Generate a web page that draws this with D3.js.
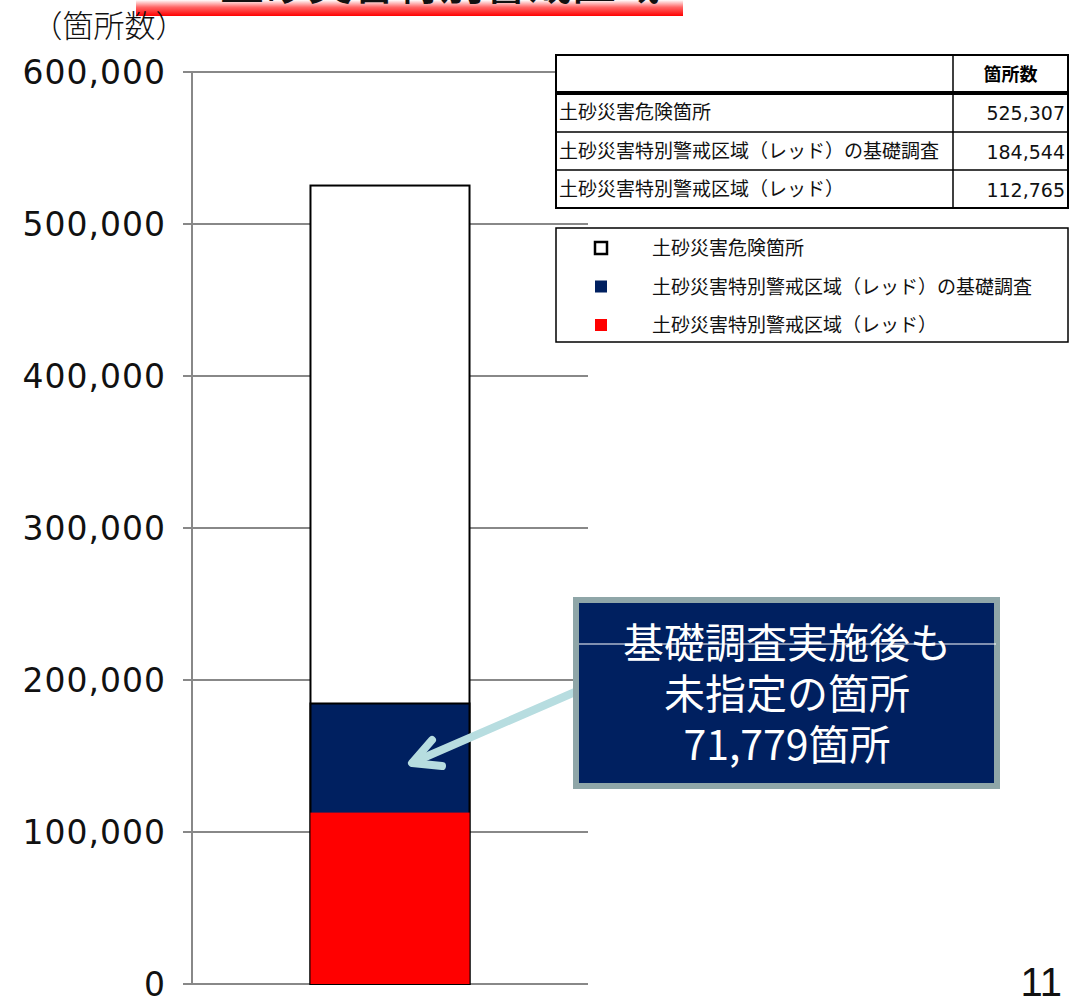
<!DOCTYPE html>
<html>
<head>
<meta charset="utf-8">
<script src="https://cdn.jsdelivr.net/npm/d3@7"></script>
<style>
  body { margin: 0; background: #fff; }
  svg { display: block; }
</style>
</head>
<body>
<div id="chart"></div>
<script>
// data
var categories = ["土砂災害危険箇所", "土砂災害特別警戒区域（レッド）の基礎調査", "土砂災害特別警戒区域（レッド）"];
var values = [525307, 184544, 112765];
var colors = ["#FFFFFF", "#002060", "#FF0000"];
var yTicks = [0, 100000, 200000, 300000, 400000, 500000, 600000];
var tableHeader = "箇所数";
var calloutLines = ["基礎調査実施後も", "未指定の箇所", "71,779箇所"];
var titleText = "土砂災害特別警戒区域";
var pageNo = "11";

function createChart() {
  var W = 1084, H = 997;
  var jp = "'Noto Sans CJK JP', sans-serif";

  var svg = d3.select("#chart").append("svg")
    .attr("width", W)
    .attr("height", H);

  // title banner (cut off at the top of the page)
  var defs = svg.append("defs");
  var grad = defs.append("linearGradient").attr("id", "banner")
    .attr("x1", 0).attr("y1", 0).attr("x2", 0).attr("y2", 1);
  grad.append("stop").attr("offset", "0%").attr("stop-color", "#ffffff");
  grad.append("stop").attr("offset", "45%").attr("stop-color", "#ff6666");
  grad.append("stop").attr("offset", "100%").attr("stop-color", "#ff0000");
  svg.append("rect")
    .attr("x", 136).attr("y", 0).attr("width", 547).attr("height", 16)
    .attr("fill", "url(#banner)");
  svg.append("text")
    .attr("x", 440).attr("y", 0)
    .attr("text-anchor", "middle")
    .attr("font-family", jp).attr("font-size", 44).attr("font-weight", 500)
    .attr("fill", "#111")
    .text(titleText);

  // scales
  var y = d3.scaleLinear().domain([0, 600000]).range([984, 72]);
  var x = d3.scaleBand().domain(["all"]).range([192, 588])
    .paddingInner(0).paddingOuter(0.745);

  // gridlines
  svg.append("g")
    .selectAll("line")
    .data(yTicks)
    .enter().append("line")
    .attr("x1", 183).attr("x2", 588)
    .attr("y1", d => y(d)).attr("y2", d => y(d))
    .attr("stroke", "#888").attr("stroke-width", 2);

  // y axis line
  svg.append("line")
    .attr("x1", 192).attr("x2", 192)
    .attr("y1", y(600000)).attr("y2", y(0))
    .attr("stroke", "#888").attr("stroke-width", 2);

  // tick labels
  svg.append("g")
    .attr("font-family", "'DejaVu Sans', sans-serif")
    .attr("font-size", 33)
    .attr("text-anchor", "end")
    .selectAll("text")
    .data(yTicks)
    .enter().append("text")
    .attr("x", 166)
    .attr("y", d => y(d) + 12)
    .attr("letter-spacing", "1px")
    .attr("fill", "#111")
    .text(d => d3.format(",")(d));

  svg.append("text")
    .attr("x", 109).attr("y", 37)
    .attr("text-anchor", "middle")
    .attr("font-family", jp).attr("font-size", 31).attr("font-weight", 300)
    .attr("fill", "#111")
    .text("（箇所数）");

  // overlapping bars
  svg.append("g")
    .selectAll("rect")
    .data(values)
    .enter().append("rect")
    .attr("x", x("all"))
    .attr("width", x.bandwidth())
    .attr("y", d => y(d))
    .attr("height", d => y(0) - y(d))
    .attr("fill", (d, i) => colors[i])
    .attr("stroke", (d, i) => i < 2 ? "#000" : "none")
    .attr("stroke-width", 2);

  // data table
  var tx0 = 556, tx1 = 1068, tcol = 953;
  var rowY = [55, 93, 132, 170, 208];
  var tbl = svg.append("g");
  tbl.append("rect")
    .attr("x", tx0).attr("y", rowY[0]).attr("width", tx1 - tx0).attr("height", rowY[4] - rowY[0])
    .attr("fill", "#fff").attr("stroke", "#000").attr("stroke-width", 2);
  tbl.append("line")
    .attr("x1", tx0).attr("x2", tx1).attr("y1", rowY[1]).attr("y2", rowY[1])
    .attr("stroke", "#000").attr("stroke-width", 4);
  tbl.selectAll("line.row")
    .data(rowY.slice(2, 4))
    .enter().append("line")
    .attr("class", "row")
    .attr("x1", tx0).attr("x2", tx1).attr("y1", d => d).attr("y2", d => d)
    .attr("stroke", "#000").attr("stroke-width", 1.5);
  tbl.append("line")
    .attr("x1", tcol).attr("x2", tcol).attr("y1", rowY[0]).attr("y2", rowY[4])
    .attr("stroke", "#000").attr("stroke-width", 1.5);
  tbl.append("text")
    .attr("x", (tcol + tx1) / 2).attr("y", 81)
    .attr("text-anchor", "middle")
    .attr("font-family", jp).attr("font-size", 18).attr("font-weight", 700)
    .text(tableHeader);
  tbl.selectAll("text.cat")
    .data(categories)
    .enter().append("text")
    .attr("class", "cat")
    .attr("x", 559)
    .attr("y", (d, i) => rowY[i + 1] + 26)
    .attr("font-family", jp).attr("font-size", 19)
    .attr("fill", "#111")
    .text(d => d);
  tbl.selectAll("text.val")
    .data(values)
    .enter().append("text")
    .attr("class", "val")
    .attr("x", 1065)
    .attr("y", (d, i) => rowY[i + 1] + 27)
    .attr("text-anchor", "end")
    .attr("font-family", "'DejaVu Sans', sans-serif").attr("font-size", 19)
    .attr("fill", "#111")
    .text(d => d3.format(",")(d));

  // legend
  var leg = svg.append("g");
  leg.append("rect")
    .attr("x", tx0).attr("y", 228).attr("width", tx1 - tx0).attr("height", 114)
    .attr("fill", "#fff").attr("stroke", "#000").attr("stroke-width", 1.5);
  var legItem = leg.selectAll("g.item")
    .data(categories)
    .enter().append("g")
    .attr("class", "item")
    .attr("transform", (d, i) => "translate(0," + (248 + i * 38.5) + ")");
  legItem.append("rect")
    .attr("x", 595).attr("y", -6).attr("width", 12).attr("height", 12)
    .attr("fill", (d, i) => colors[i])
    .attr("stroke", (d, i) => i === 0 ? "#000" : "none")
    .attr("stroke-width", 2.5);
  legItem.append("text")
    .attr("x", 652).attr("y", 7)
    .attr("font-family", jp).attr("font-size", 19)
    .attr("fill", "#111")
    .text(d => d);

  // arrow
  var arrowColor = "#B7DDE0";
  var arr = svg.append("g")
    .attr("stroke", arrowColor).attr("stroke-width", 8)
    .attr("stroke-linecap", "round").attr("fill", "none");
  arr.append("line").attr("x1", 575).attr("y1", 692).attr("x2", 414).attr("y2", 762);
  arr.append("polyline").attr("points", "432,740 412,763 442,766")
    .attr("stroke-linejoin", "round");

  // callout box
  svg.append("rect")
    .attr("x", 576).attr("y", 600).attr("width", 421).attr("height", 186)
    .attr("fill", "#002060").attr("stroke", "#8FA6A8").attr("stroke-width", 6);
  svg.append("line")
    .attr("x1", 579).attr("x2", 996).attr("y1", 644).attr("y2", 644)
    .attr("stroke", "#fff").attr("stroke-width", 1.2);
  svg.append("g")
    .attr("font-family", jp).attr("font-size", 41)
    .attr("fill", "#fff").attr("text-anchor", "middle")
    .selectAll("text")
    .data(calloutLines)
    .enter().append("text")
    .attr("x", 787)
    .attr("y", (d, i) => 658 + i * 51)
    .text(d => d);

  // page number
  svg.append("text")
    .attr("x", 1062).attr("y", 996)
    .attr("text-anchor", "end")
    .attr("font-family", "'Liberation Sans Narrow', 'Liberation Sans', sans-serif")
    .attr("font-size", 40)
    .attr("fill", "#111")
    .text(pageNo);
}

createChart();
</script>
</body>
</html>
